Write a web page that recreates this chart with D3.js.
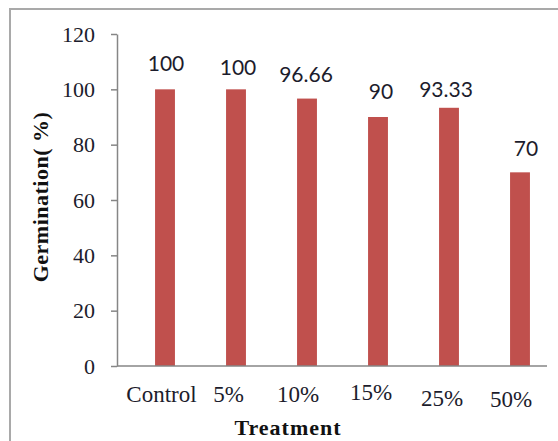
<!DOCTYPE html>
<html><head><meta charset="utf-8">
<script src="https://cdn.jsdelivr.net/npm/d3@7"></script>
<style>html,body{margin:0;padding:0;background:#fff;}svg{display:block;}</style>
</head><body>
<script>
const categories = ["Control", "5%", "10%", "15%", "25%", "50%"];
const values = [100, 100, 96.66, 90, 93.33, 70];
const valueLabels = ["100", "100", "96.66", "90", "93.33", "70"];
const yTicks = [0, 20, 40, 60, 80, 100, 120];
// small per-label offsets mimicking the original placement
const labelDx = [1, 2, -1, 3, -3, 6];
const labelDy = [-18, -14, -17, -18, -11, -16];
const tickDy = [36, 36, 36, 34, 40, 41];
const tickDx = [-3.5, -7.5, -9, -7, -7, -9];

(function () {
const W = 558, H = 441;
const svg = d3.select("body").append("svg").attr("width", W).attr("height", H);
const serif = "'Liberation Serif', 'Times New Roman', serif";
const ink = "#1c1c2c";

// frame
svg.append("path").attr("d", `M10,${H} L10,9 L${W},9`).attr("fill", "none")
  .attr("stroke", "#a9a9a9").attr("stroke-width", 2);

const axLeft = 117, axRight = 547, mTop = 34, mBottom = 366;
const x = d3.scaleBand().domain(categories).range([129.5, 555.5]).paddingInner(0.72).paddingOuter(0.36);
const y = d3.scaleLinear().domain([0, 120]).range([mBottom, mTop]);

const g = svg.append("g");

// bars
g.selectAll("rect.bar").data(values).enter().append("rect")
  .attr("x", (d, i) => x(categories[i]))
  .attr("y", d => y(d))
  .attr("width", x.bandwidth())
  .attr("height", d => y(0) - y(d))
  .attr("fill", "#c0504d");

// y axis
const yAxis = d3.axisLeft(y).tickValues(yTicks).tickSize(6).tickSizeOuter(0).tickPadding(16);
const ya = svg.append("g").attr("transform", `translate(${axLeft},0)`).call(yAxis);
ya.select(".domain").attr("stroke", "#868686").attr("stroke-width", 1.5);
ya.selectAll(".tick line").attr("stroke", "#868686").attr("stroke-width", 1.5);
ya.selectAll(".tick text").attr("font-family", serif)
  .attr("font-size", 22).attr("fill", ink);

// x axis
const xa = svg.append("g").attr("transform", `translate(0,${mBottom})`)
  .call(d3.axisBottom(x).tickSize(0).tickPadding(0));
xa.select(".domain").attr("d", `M${axLeft},0H${axRight}`)
  .attr("stroke", "#868686").attr("stroke-width", 1.5);
xa.selectAll(".tick text").attr("font-family", serif)
  .attr("font-size", 23).attr("fill", ink)
  .attr("dy", null).attr("y", (d, i) => tickDy[i]).attr("x", (d, i) => tickDx[i]);

// value labels
g.selectAll("text.val").data(values).enter().append("text")
  .attr("x", (d, i) => x(categories[i]) + x.bandwidth() / 2 + labelDx[i])
  .attr("y", (d, i) => y(d) + labelDy[i])
  .attr("text-anchor", "middle")
  .attr("font-family", "Lato, 'Open Sans', 'Liberation Sans', sans-serif")
  .attr("font-size", 21).attr("fill", ink)
  .text((d, i) => valueLabels[i]);

// axis titles
svg.append("text").attr("transform", "translate(48,197) rotate(-90)")
  .attr("text-anchor", "middle")
  .attr("font-family", serif)
  .attr("font-weight", "bold").attr("font-size", 22).attr("fill", "#111")
  .attr("letter-spacing", 0.5)
  .text("Germination( %)");
svg.append("text").attr("x", 288).attr("y", 435)
  .attr("text-anchor", "middle")
  .attr("font-family", serif)
  .attr("font-weight", "bold").attr("font-size", 22).attr("fill", "#111")
  .attr("letter-spacing", 1)
  .text("Treatment");
})();
</script>
</body></html>
